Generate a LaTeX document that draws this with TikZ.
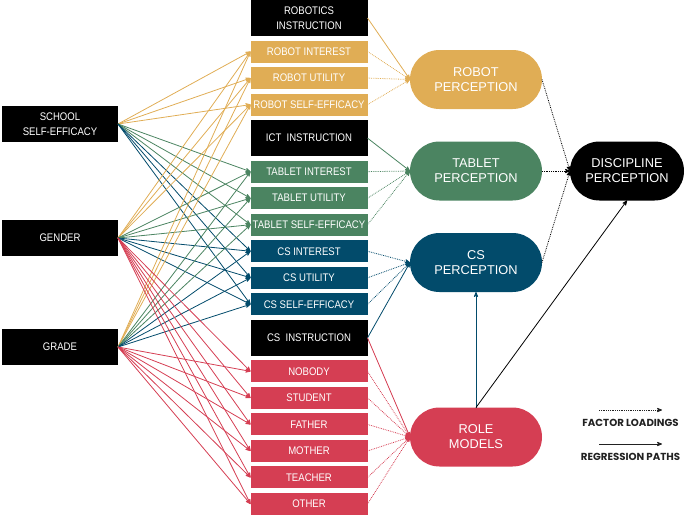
\documentclass[tikz,border=0pt]{standalone}
\usepackage{fontspec}
\setmainfont{Liberation Sans}
\newfontfamily\boxfont{Liberation Sans}[FakeStretch=0.87]
\newfontfamily\legfont{Poppins}
\usepackage{tikz}
\usetikzlibrary{positioning, arrows, shapes.misc}
\definecolor{robotc}{HTML}{E0AD55}
\definecolor{tabletc}{HTML}{4B8461}
\definecolor{csc}{HTML}{024B6B}
\definecolor{rolec}{HTML}{D53E53}
\definecolor{legc}{HTML}{222222}

\begin{document}
\begin{tikzpicture}[x=1pt,y=1pt,>=stealth',node distance=4.53pt,
    box/.style={rectangle,minimum width=117pt,minimum height=22pt,inner sep=0pt,outer sep=0pt,
                text=white,font=\boxfont\fontsize{11}{15}\selectfont,align=center},
    inst/.style={box,fill=black,minimum height=36pt},
    side/.style={inst,minimum width=116pt},
    latent/.style={rounded rectangle,minimum width=132pt,minimum height=59pt,inner sep=0pt,
                   outer sep=0pt,text=white,font=\fontsize{12.8}{15}\selectfont,align=center},
    loading/.style={->,densely dotted,line width=0.8pt},
    regr/.style={->,line width=0.8pt},
    legend/.style={text=legc,font=\legfont\bfseries\fontsize{10.2}{12}\selectfont}]

    \useasboundingbox (0,0) rectangle (685,-515);

    % exogenous variables
    \node[side] (school) at (60,-124) {SCHOOL\\SELF-EFFICACY};
    \node[side] (gender) at (60,-238) {GENDER};
    \node[side] (grade) at (60,-347) {GRADE};

    % middle column
    \node[inst] (rinst) at (309,-18) {ROBOTICS\\INSTRUCTION};
    \node[box,fill=robotc,below=of rinst] (rint) {ROBOT INTEREST};
    \node[box,fill=robotc,below=of rint] (rutil) {ROBOT UTILITY};
    \node[box,fill=robotc,below=of rutil] (reff) {ROBOT SELF-EFFICACY};
    \node[inst,below=of reff] (ict) {ICT~ INSTRUCTION};
    \node[box,fill=tabletc,below=of ict] (tint) {TABLET INTEREST};
    \node[box,fill=tabletc,below=of tint] (tutil) {TABLET UTILITY};
    \node[box,fill=tabletc,below=of tutil] (teff) {TABLET SELF-EFFICACY};
    \node[box,fill=csc,below=of teff] (csint) {CS INTEREST};
    \node[box,fill=csc,below=of csint] (csutil) {CS UTILITY};
    \node[box,fill=csc,below=of csutil] (cseff) {CS SELF-EFFICACY};
    \node[inst,below=of cseff] (csinst) {CS~ INSTRUCTION};
    \node[box,fill=rolec,below=of csinst] (nobody) {NOBODY};
    \node[box,fill=rolec,below=of nobody] (student) {STUDENT};
    \node[box,fill=rolec,below=of student] (father) {FATHER};
    \node[box,fill=rolec,below=of father] (mother) {MOTHER};
    \node[box,fill=rolec,below=of mother] (teacher) {TEACHER};
    \node[box,fill=rolec,below=of teacher] (other) {OTHER};

    % latent variables
    \node[latent,fill=robotc] (robot) at (476,-79.5) {ROBOT\\PERCEPTION};
    \node[latent,fill=tabletc] (tablet) at (476,-171) {TABLET\\PERCEPTION};
    \node[latent,fill=csc] (cs) at (476,-262.5) {CS\\PERCEPTION};
    \node[latent,fill=rolec] (role) at (476,-437) {ROLE\\MODELS};
    \node[latent,fill=black,minimum width=114pt] (disc) at (627,-171) {DISCIPLINE\\PERCEPTION};

    % regression paths from the left
    \foreach \s in {school,gender,grade}
        \foreach \t/\c in {rint/robotc,rutil/robotc,reff/robotc,tint/tabletc,tutil/tabletc,
                           teff/tabletc,csint/csc,csutil/csc,cseff/csc}
            \draw[regr,\c] (\s.east) -- (\t.west);
    \foreach \s in {gender,grade}
        \foreach \t in {nobody,student,father,mother,teacher,other}
            \draw[regr,rolec] (\s.east) -- (\t.west);

    % factor loadings
    \foreach \t in {rint,rutil,reff}
        \draw[loading,robotc] (\t.east) -- (robot.west);
    \foreach \t in {tint,tutil,teff}
        \draw[loading,tabletc] (\t.east) -- (tablet.west);
    \foreach \t in {csint,csutil,cseff}
        \draw[loading,csc] (\t.east) -- (cs.west);
    \foreach \t in {nobody,student,father,mother,teacher,other}
        \draw[loading,rolec] (\t.east) -- (role.west);
    \foreach \t in {robot,tablet,cs}
        \draw[loading] (\t.east) -- (disc.west);

    % instruction paths
    \draw[regr,robotc] (rinst.east) -- (robot.west);
    \draw[regr,tabletc] (ict.east) -- (tablet.west);
    \draw[regr,csc] (csinst.east) -- (cs.west);
    \draw[regr,rolec] (csinst.east) -- (role.west);
    \draw[regr,csc] (role.north) -- (cs.south);
    \draw[regr] (role.north) -- (disc.south);

    % legend
    \coordinate (fla) at (599,-410);
    \coordinate (flb) at (662,-410);
    \coordinate (rpa) at (599,-444);
    \coordinate (rpb) at (662,-444);
    \draw[loading,legc] (fla) -- (flb);
    \draw[regr,legc] (rpa) -- (rpb);
    \node[legend] (fltext) at (630.5,-423) {FACTOR LOADINGS};
    \node[legend] (rptext) at (630.5,-457) {REGRESSION PATHS};
\end{tikzpicture}
\end{document}
